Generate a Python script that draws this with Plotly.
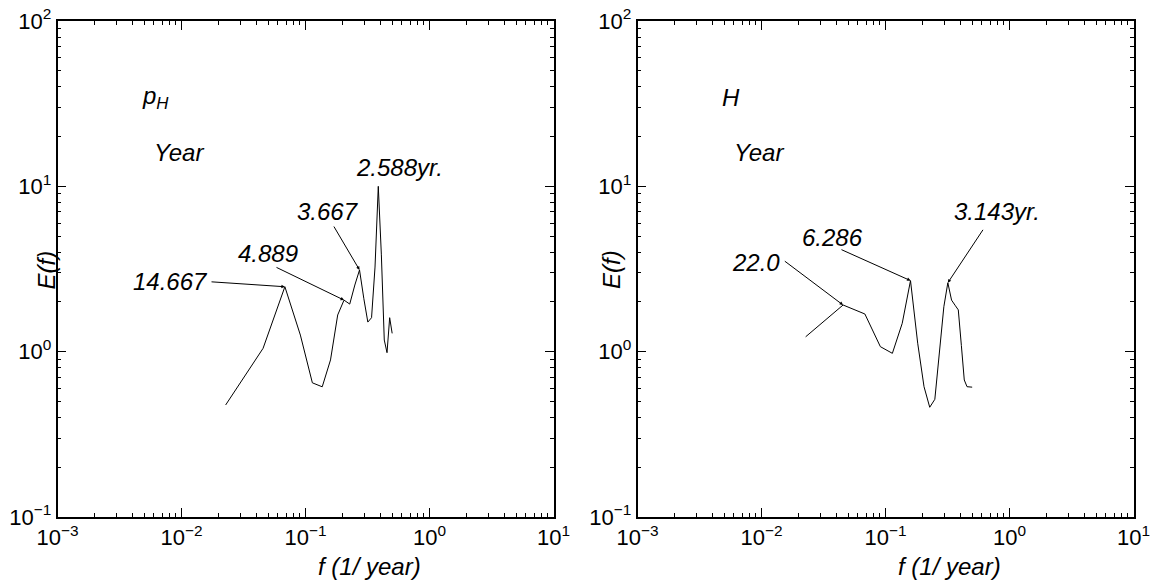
import math
import plotly.graph_objects as go

# Spectral frequencies (1/year) shared by both spectra
FREQ = [0.0227, 0.0455, 0.0682, 0.0909, 0.1136, 0.1364, 0.1591, 0.1818,
        0.2045, 0.2273, 0.2500, 0.2727, 0.2955, 0.3182, 0.3409, 0.3636,
        0.3864, 0.4091, 0.4318, 0.4545, 0.4773, 0.5000]

# Spectral energy E(f) for pH and H
E_PH = [0.476, 1.048, 2.47, 1.26, 0.648, 0.613, 0.891, 1.667, 2.05, 1.94,
        2.53, 3.12, 2.09, 1.51, 1.605, 3.25, 10.0, 3.85, 1.176, 0.986,
        1.605, 1.29]
E_H = [1.23, 1.915, 1.69, 1.072, 0.977, 1.484, 2.69, 1.125, 0.614, 0.461,
       0.515, 1.05, 1.87, 2.61, 2.05, 1.91, 1.79, 1.09, 0.674, 0.614,
       0.61, 0.61]

# Labelled peak periods (years)
PH_PERIODS = ["14.667", "4.889", "3.667", "2.588"]
H_PERIODS = ["22.0", "6.286", "3.143"]

# Decade tick labels
X_TICKS = [1e-3, 1e-2, 1e-1, 1e0, 1e1]
X_TICKTEXT = ["10<sup>−3</sup>", "10<sup>−2</sup>", "10<sup>−1</sup>",
              "10<sup>0</sup>", "10<sup>1</sup>"]
Y_TICKS = [1e-1, 1e0, 1e1, 1e2]
Y_TICKTEXT = ["10<sup>−1</sup>", "10<sup>0</sup>", "10<sup>1</sup>",
              "10<sup>2</sup>"]

FONT = "Liberation Sans"
W, H = 1154, 580
L1, R1 = 57.5, 553.5
L2, R2 = 637.5, 1133.5
TOP, BOT = 21, 517

fig = go.Figure()
fig.add_trace(go.Scatter(x=FREQ, y=E_PH, mode="lines", xaxis="x", yaxis="y",
                         line=dict(color="black", width=1), showlegend=False))
fig.add_trace(go.Scatter(x=FREQ, y=E_H, mode="lines", xaxis="x2", yaxis="y2",
                         line=dict(color="black", width=1), showlegend=False))

axis_common = dict(
    type="log", showgrid=False, automargin=False,
    zeroline=False, showline=True, linecolor="black", linewidth=1.5,
    mirror="ticks", ticks="inside", ticklen=9, tickwidth=1, tickcolor="black",
    tickfont=dict(family=FONT, size=22, color="black"),
    minor=dict(ticks="inside", ticklen=4, tickwidth=1, tickcolor="black",
               dtick="D1", showgrid=False),
)
xcommon = dict(axis_common, range=[-3, 1], tickmode="array",
               tickvals=X_TICKS, ticktext=X_TICKTEXT)
ycommon = dict(axis_common, range=[-1, 2], tickmode="array",
               tickvals=Y_TICKS, ticktext=Y_TICKTEXT,
               domain=[(H - BOT) / H, (H - TOP) / H])

fig.update_layout(
    width=W, height=H, margin=dict(l=0, r=0, t=0, b=0, autoexpand=False),
    paper_bgcolor="white", plot_bgcolor="white",
    xaxis=dict(xcommon, domain=[L1 / W, R1 / W], anchor="y"),
    yaxis=dict(ycommon, anchor="x"),
    xaxis2=dict(xcommon, domain=[L2 / W, R2 / W], anchor="y2"),
    yaxis2=dict(ycommon, anchor="x2"),
)

afont = dict(family=FONT, size=24, color="black")


def text(xref, yref, x, y, s, xanchor="center", yanchor="middle"):
    fig.add_annotation(xref=xref, yref=yref, x=x, y=y, text=s,
                       showarrow=False, font=afont,
                       xanchor=xanchor, yanchor=yanchor)


def arrow(xa, ya, period, energies, tail):
    f = 1.0 / float(period)
    idx = min(range(len(FREQ)), key=lambda i: abs(FREQ[i] - f))
    fig.add_annotation(xref=xa, yref=ya, axref=xa, ayref=ya,
                       x=math.log10(f), y=math.log10(energies[idx]),
                       ax=tail[0], ay=tail[1], text="", showarrow=True,
                       arrowhead=2, arrowsize=0.7, arrowwidth=1,
                       arrowcolor="black", standoff=0, startstandoff=0)


# Panel labels and x-axis titles
for xd, yd, s in [("x domain", "y domain", "<i>p<sub>H</sub></i>"),
                  ("x2 domain", "y2 domain", "<i>H</i>")]:
    text(xd, yd, 0.166, (BOT - 97) / (BOT - TOP), s, xanchor="left")
    text(xd, yd, 0.1905, (BOT - 152) / (BOT - TOP), "<i>Year</i>", xanchor="left")
    text(xd, yd, 0.63, -0.1, "<i>f (1/ year)</i>", yanchor="middle")

# Axis titles E(f)
for xpix in (30, 611):
    fig.add_annotation(xref="paper", yref="paper", x=xpix / W,
                       y=(H - 270) / H, text="<i>E(f)</i>", showarrow=False,
                       font=afont, textangle=-90)

# Peak labels, pH panel
ph_text_pos = [(-2.085, 0.427), (-1.302, 0.591), (-0.819, 0.845), (-0.238, 1.111)]
ph_tails = [(-1.770, 0.423), (-1.246, 0.514), (-0.778, 0.766)]
for i, p in enumerate(PH_PERIODS):
    label = p + ("yr." if i == len(PH_PERIODS) - 1 else "")
    text("x", "y", ph_text_pos[i][0], ph_text_pos[i][1], "<i>" + label + "</i>")
    if i < len(ph_tails):
        arrow("x", "y", p, E_PH, ph_tails[i])

# Peak labels, H panel
h_text_pos = [(-2.044, 0.539), (-1.431, 0.6905), (-0.101, 0.845)]
h_tails = [(-1.824, 0.554), (-1.367, 0.621), (-0.206, 0.746)]
for i, p in enumerate(H_PERIODS):
    label = p + ("yr." if i == len(H_PERIODS) - 1 else "")
    text("x2", "y2", h_text_pos[i][0], h_text_pos[i][1], "<i>" + label + "</i>")
    arrow("x2", "y2", p, E_H, h_tails[i])

fig.write_html("out.html")
